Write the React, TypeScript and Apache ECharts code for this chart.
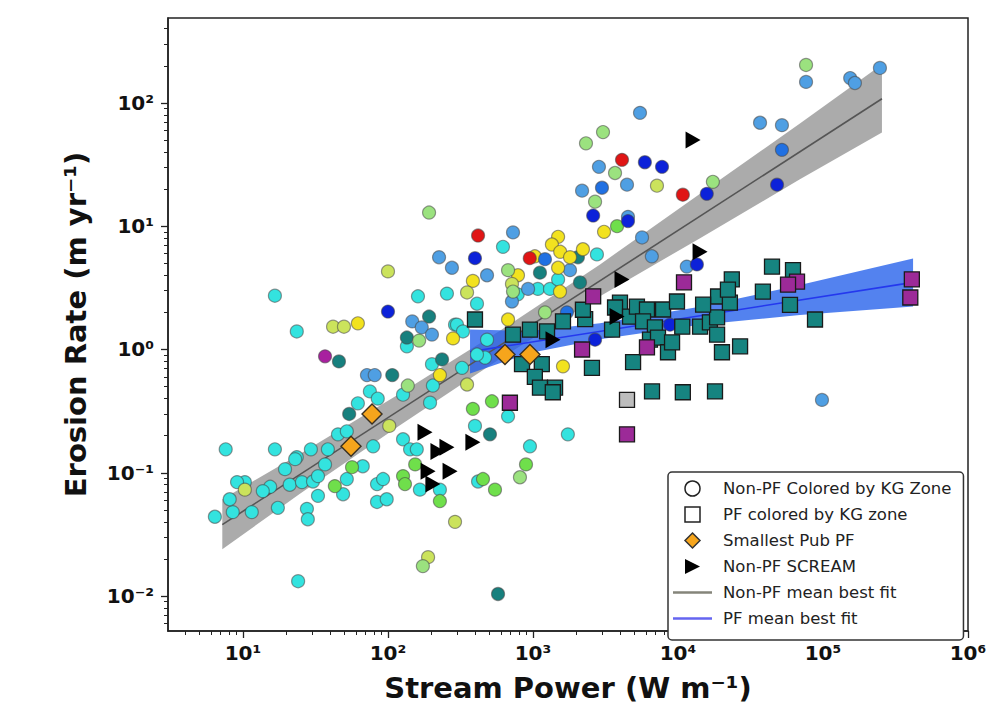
import React, { useEffect, useRef } from "react";
import * as echarts from "echarts";

// ---------- axes ----------
const xMin = 3.04;
const xMax = 1e6;
const yMin = 0.00521;
const yMax = 488;
const xTickValues = [10, 100, 1000, 1e4, 1e5, 1e6];
const xTickLabels = ["10¹", "10²", "10³", "10⁴", "10⁵", "10⁶"];
const yTickValues = [0.01, 0.1, 1, 10, 100];
const yTickLabels = ["10⁻²", "10⁻¹", "10⁰", "10¹", "10²"];
const xMinorTicks = [
  4, 5, 6, 7, 8, 9, 20, 30, 40, 50, 60, 70, 80, 90, 200, 300, 400, 500, 600, 700, 800, 900,
  2000, 3000, 4000, 5000, 6000, 7000, 8000, 9000, 20000, 30000, 40000, 50000, 60000, 70000, 80000, 90000,
  200000, 300000, 400000, 500000, 600000, 700000, 800000, 900000,
];
const yMinorTicks = [
  0.006, 0.007, 0.008, 0.009, 0.02, 0.03, 0.04, 0.05, 0.06, 0.07, 0.08, 0.09,
  0.2, 0.3, 0.4, 0.5, 0.6, 0.7, 0.8, 0.9, 2, 3, 4, 5, 6, 7, 8, 9,
  20, 30, 40, 50, 60, 70, 80, 90, 200, 300, 400,
];

// ---------- Non-PF circles, by KG zone colour ----------
const cyanPts: [number, number][] = [
  [16.6, 2.73], [23.5, 1.4], [161, 2.7], [255, 2.84], [411, 2.35], [621, 6.8], [1080, 3.1], [1310, 3.1], [1490, 3.7], [2760, 5.9],
  [75, 0.457], [85, 0.4], [62, 0.366], [45.2, 0.205], [79, 0.164], [38.5, 0.155], [29.4, 0.155], [23.5, 0.134], [16.6, 0.155], [7.6, 0.155],
  [10.3, 0.084], [9.1, 0.084], [15.4, 0.077], [21, 0.08], [25.5, 0.084], [30.4, 0.085], [32.9, 0.094], [67, 0.113], [52, 0.089], [127, 0.43],
  [195, 0.37], [204, 0.51], [324, 0.71], [467, 0.86], [290, 1.59], [135, 1.06], [482, 1.2], [411, 0.91], [398, 0.24], [127, 0.187],
  [142, 0.155], [166, 0.073], [8.5, 0.048], [11.5, 0.048], [13.7, 0.071], [17.4, 0.052], [22.9, 0.129], [32.9, 0.065], [49, 0.067], [27.6, 0.051],
  [28, 0.042], [84, 0.081], [92.5, 0.089], [84, 0.058], [98, 0.061], [158, 0.155], [228, 0.073], [418, 0.085], [24, 0.0132], [673, 0.287],
  [953, 0.164], [1740, 0.205], [299, 1.59], [329, 1.4], [785, 2.8], [201, 0.76], [52, 0.217], [6.4, 0.044], [8.1, 0.061], [19.5, 0.107], [36.8, 0.117],
];
const tealPts: [number, number][] = [
  [45.9, 0.8], [107, 0.62], [54, 0.3], [192, 1.85], [236, 0.83], [135, 1.25], [2040, 5.6], [1117, 4.2], [2110, 3.5], [505, 0.205], [574, 0.0104],
];
const lightBluePts: [number, number][] = [
  [76400, 148], [154000, 159], [166000, 145], [247000, 192], [36800, 69], [52100, 66], [5470, 83], [2850, 30.3], [2180, 19.4], [4450, 21.7],
  [4520, 11.9], [5650, 8.1], [6600, 5.7], [11500, 4.7], [728, 8.9], [225, 5.6], [276, 4.6], [482, 4.0], [1800, 4.4], [147, 1.69],
  [171, 1.51], [201, 1.32], [71.6, 0.62], [81, 0.62], [716, 2.45], [925, 3.1], [98400, 0.39],
];
const mediumBluePts: [number, number][] = [[52100, 41.6], [2990, 20.5], [1210, 5.4], [1715, 2.0]];
const darkBluePts: [number, number][] = [
  [48200, 21.7], [15800, 18.3], [5910, 33], [7760, 30.3], [2600, 12.2], [4520, 11], [13500, 4.9], [398, 5.5], [100, 2.03], [2680, 1.2], [8810, 1.59],
];
const yellowPts: [number, number][] = [
  [3090, 9.0], [1490, 8.2], [1350, 7.1], [1540, 6.2], [1030, 5.7], [1800, 5.6], [2210, 6.5], [788, 4.0], [1490, 4.6], [1535, 2.95],
  [673, 1.75], [385, 3.6], [281, 1.23], [228, 0.62], [62, 1.63], [1610, 0.73],
];
const yellowGreenPts: [number, number][] = [
  [7160, 21.3], [100, 4.3], [351, 2.9], [41.8, 1.53], [49.7, 1.53], [716, 3.4], [10.3, 0.073], [102, 0.24], [351, 0.52], [290, 0.04], [189, 0.0207],
];
const lightGreenPts: [number, number][] = [
  [76400, 203], [3040, 58], [2320, 47], [3680, 27], [17400, 22.9], [2680, 15.8], [192, 12.9], [673, 4.4], [728, 2.95], [1210, 2.0],
  [164, 1.18], [137, 0.51], [174, 0.0175], [813, 0.092],
];
const greenPts: [number, number][] = [
  [3800, 10], [56.5, 0.111], [43, 0.078], [127, 0.094], [131, 0.081], [154, 0.117], [228, 0.059], [452, 0.089], [547, 0.073], [385, 0.33],
  [521, 0.38], [895, 0.117],
];
const redPts: [number, number][] = [[4110, 34.5], [10800, 18], [418, 8.4], [950, 5.5]];
const magentaPts: [number, number][] = [[36.8, 0.88]];

// ---------- PF squares ----------
const pfTealPts: [number, number][] = [
  [398, 1.75], [728, 1.32], [953, 1.45], [1250, 1.4], [1610, 1.69], [2290, 1.76], [2210, 2.1], [840, 0.76], [1150, 0.76], [1030, 0.6],
  [1117, 0.49], [1420, 0.49], [1370, 0.45], [2550, 0.71], [3980, 2.4], [3680, 2.19], [4670, 1.85], [5210, 2.23], [6110, 2.11], [7890, 2.11],
  [9840, 2.45], [5740, 1.69], [6930, 1.51], [6410, 1.2], [7280, 1.25], [10700, 1.53], [14200, 1.53], [16600, 1.66], [18600, 1.82], [18900, 2.69],
  [22800, 2.4], [14900, 2.31], [23500, 3.7], [22100, 3.06], [38500, 2.95], [44500, 4.7], [62100, 4.4], [59200, 2.3], [88100, 1.75], [8530, 0.95],
  [9100, 1.14], [20100, 0.95], [26800, 1.06], [18600, 1.32], [4900, 0.79], [6620, 0.457], [10800, 0.45], [18000, 0.457], [3510, 1.45],
];
const pfPurplePts: [number, number][] = [
  [11000, 3.5], [2600, 2.7], [2180, 1.0], [693, 0.37], [4450, 0.205], [66200, 3.55], [57400, 3.36], [410000, 3.7], [400000, 2.64], [6110, 1.04],
];
const pfGrayPts: [number, number][] = [[4450, 0.39]];

// ---------- other markers ----------
const smallestPubPts: [number, number][] = [[77.6, 0.3], [55.6, 0.164], [641, 0.91], [953, 0.91]];
const screamPts: [number, number][] = [
  [12700, 50], [14200, 6.2], [4110, 3.7], [3800, 1.85], [1374, 1.2], [180, 0.213], [255, 0.161], [221, 0.149], [385, 0.177], [189, 0.103],
  [268, 0.103], [204, 0.081],
];

// ---------- fits and confidence bands ----------
const nonPfFitX = [7.2, 255000];
const nonPfFitY = [0.038, 108];
const nonPfBandX = [7.2, 24.7, 121, 592, 2900, 14200, 69300, 255000];
const nonPfBandLo = [0.024, 0.0675, 0.243, 0.84, 2.7, 8.0, 24.0, 57.6];
const nonPfBandHi = [0.061, 0.142, 0.44, 1.42, 4.9, 18.3, 68, 205];
const pfFitX = [368, 418000];
const pfFitY = [0.96, 3.5];
const pfBandX = [368, 950, 2900, 14200, 69300, 418000];
const pfBandLo = [0.64, 0.935, 1.21, 1.59, 1.9, 2.23];
const pfBandHi = [1.45, 1.41, 1.63, 2.22, 3.33, 5.47];

const SQUARE = "path://M0,0L10,0L10,10L0,10Z";
const DIAMOND = "path://M5,0L10,5L5,10L0,5Z";
const TRIANGLE_RIGHT = "path://M0,0L10,5L0,10Z";
const LINE_ICON = "path://M0,0L40,0L40,2.8L0,2.8Z";

const FONT = "DejaVu Sans";

function tickFormatter(values: number[], labels: string[]) {
  return (v: number) => {
    const i = values.findIndex((t) => Math.abs(Math.log10(t) - Math.log10(v)) < 0.01);
    return i >= 0 ? labels[i] : "";
  };
}

function colored(pts: [number, number][], color: string) {
  return pts.map((p) => ({ value: p, itemStyle: { color } }));
}

function bandRenderer(xs: number[], lo: number[], hi: number[], fill: string) {
  return (params: any, api: any) => {
    if (params.dataIndex !== 0) return null;
    const points: number[][] = [];
    for (let i = 0; i < xs.length; i++) points.push(api.coord([xs[i], hi[i]]));
    for (let i = xs.length - 1; i >= 0; i--) points.push(api.coord([xs[i], lo[i]]));
    return { type: "polygon", shape: { points }, style: { fill }, silent: true };
  };
}

export default function App() {
  const ref = useRef<HTMLDivElement>(null);
  useEffect(() => {
    if (!ref.current) return;
    const chart = echarts.init(ref.current, undefined, { renderer: "svg" });

    const circleData = [
      ...colored(cyanPts, "#33e3df"),
      ...colored(tealPts, "#17807e"),
      ...colored(lightBluePts, "#4f9fe3"),
      ...colored(yellowPts, "#f2e21f"),
      ...colored(yellowGreenPts, "#cbe35c"),
      ...colored(lightGreenPts, "#9be27f"),
      ...colored(greenPts, "#6fdf4b"),
      ...colored(mediumBluePts, "#2070e2"),
      ...colored(darkBluePts, "#0c22d9"),
      ...colored(redPts, "#e01515"),
      ...colored(magentaPts, "#a8209f"),
    ];
    const squareData = [
      ...colored(pfTealPts, "#168480"),
      ...colored(pfPurplePts, "#9c2a98"),
      ...colored(pfGrayPts, "#bdbdbd"),
    ];

    const axisCommon = {
      splitLine: { show: false },
      minorTick: { show: false },
      minorSplitLine: { show: false },
    };

    const option: any = {
      animation: false,
      backgroundColor: "#ffffff",
      textStyle: { fontFamily: FONT },
      grid: {
        left: 168,
        right: 39,
        top: 18,
        bottom: 75,
        show: true,
        borderColor: "#222",
        borderWidth: 1.5,
        backgroundColor: "transparent",
      },
      legend: {
        show: true,
        orient: "vertical",
        left: 668,
        top: 472,
        padding: [8, 12, 13, 5],
        itemGap: 9,
        itemWidth: 39,
        itemHeight: 15,
        selectedMode: false,
        backgroundColor: "#ffffff",
        borderColor: "#333",
        borderWidth: 1.5,
        borderRadius: 4,
        textStyle: { fontFamily: FONT, fontSize: 16.5, color: "#222", lineHeight: 15, padding: [0, 0, 0, 6] },
        data: [
          { name: "Non-PF Colored by KG Zone", icon: "circle", itemStyle: { color: "#ffffff", borderColor: "#222", borderWidth: 1.5 } },
          { name: "PF colored by KG zone", icon: SQUARE, itemStyle: { color: "#ffffff", borderColor: "#222", borderWidth: 1.5 } },
          { name: "Smallest Pub PF", icon: DIAMOND, itemStyle: { color: "#f6a51c", borderColor: "#333", borderWidth: 1.5 } },
          { name: "Non-PF SCREAM", icon: TRIANGLE_RIGHT, itemStyle: { color: "#000000", borderWidth: 0 } },
          { name: "Non-PF mean best fit", icon: LINE_ICON, itemStyle: { color: "#85857a", borderWidth: 0 } },
          { name: "PF mean best fit", icon: LINE_ICON, itemStyle: { color: "#6565f0", borderWidth: 0 } },
        ],
      },
      xAxis: [
        {
          ...axisCommon,
          type: "log",
          logBase: 10,
          min: xMin,
          max: xMax,
          position: "bottom",
          name: "Stream Power (W m⁻¹)",
          nameLocation: "middle",
          nameGap: 42,
          nameTextStyle: { fontFamily: FONT, fontSize: 29, fontWeight: "bold", color: "#111" },
          axisLine: { show: true, lineStyle: { color: "#222", width: 1.5 } },
          axisTick: { show: true, inside: false, length: 7, lineStyle: { color: "#222", width: 1.3 }, customValues: xTickValues },
          axisLabel: {
            show: true,
            customValues: xTickValues,
            formatter: tickFormatter(xTickValues, xTickLabels),
            fontFamily: FONT,
            fontSize: 20,
            fontWeight: "bold",
            color: "#111",
            margin: 12,
          },
        },
        {
          ...axisCommon,
          type: "log",
          logBase: 10,
          min: xMin,
          max: xMax,
          position: "bottom",
          axisLine: { show: false },
          axisTick: { show: true, inside: false, length: 4, lineStyle: { color: "#222", width: 1 }, customValues: xMinorTicks },
          axisLabel: { show: false },
        },
      ],
      yAxis: [
        {
          ...axisCommon,
          type: "log",
          logBase: 10,
          min: yMin,
          max: yMax,
          position: "left",
          name: "Erosion Rate (m yr⁻¹)",
          nameLocation: "middle",
          nameRotate: 90,
          nameGap: 78,
          nameTextStyle: { fontFamily: FONT, fontSize: 29, fontWeight: "bold", color: "#111" },
          axisLine: { show: true, lineStyle: { color: "#222", width: 1.5 } },
          axisTick: { show: true, inside: false, length: 7, lineStyle: { color: "#222", width: 1.3 }, customValues: yTickValues },
          axisLabel: {
            show: true,
            customValues: yTickValues,
            formatter: tickFormatter(yTickValues, yTickLabels),
            fontFamily: FONT,
            fontSize: 20,
            fontWeight: "bold",
            color: "#111",
            margin: 14,
          },
        },
        {
          ...axisCommon,
          type: "log",
          logBase: 10,
          min: yMin,
          max: yMax,
          position: "left",
          axisLine: { show: false },
          axisTick: { show: true, inside: false, length: 4, lineStyle: { color: "#222", width: 1 }, customValues: yMinorTicks },
          axisLabel: { show: false },
        },
      ],
      series: [
        {
          name: "Non-PF band",
          type: "custom",
          xAxisIndex: 0,
          yAxisIndex: 0,
          z: 1,
          silent: true,
          encode: { x: 0, y: 1 },
          data: [[nonPfBandX[0], nonPfBandLo[0]]],
          renderItem: bandRenderer(nonPfBandX, nonPfBandLo, nonPfBandHi, "rgba(128,128,128,0.66)"),
        },
        {
          name: "PF band",
          type: "custom",
          xAxisIndex: 0,
          yAxisIndex: 0,
          z: 1,
          silent: true,
          encode: { x: 0, y: 1 },
          data: [[pfBandX[0], pfBandLo[0]]],
          renderItem: bandRenderer(pfBandX, pfBandLo, pfBandHi, "rgba(35,95,235,0.78)"),
        },
        {
          name: "Non-PF mean best fit",
          type: "line",
          z: 2,
          symbol: "none",
          data: nonPfFitX.map((x, i) => [x, nonPfFitY[i]]),
          lineStyle: { color: "#555555", width: 1.6 },
          itemStyle: { color: "#85857a" },
        },
        {
          name: "PF mean best fit",
          type: "line",
          z: 2,
          symbol: "none",
          data: pfFitX.map((x, i) => [x, pfFitY[i]]),
          lineStyle: { color: "#2438ee", width: 1.6 },
          itemStyle: { color: "#6565f0" },
        },
        {
          name: "Non-PF Colored by KG Zone",
          type: "scatter",
          z: 3,
          symbol: "circle",
          symbolSize: 13,
          data: circleData,
          itemStyle: { borderColor: "rgba(70,70,70,0.55)", borderWidth: 1.2, opacity: 1 },
        },
        {
          name: "PF colored by KG zone",
          type: "scatter",
          z: 4,
          symbol: SQUARE,
          symbolSize: 15,
          data: squareData,
          itemStyle: { borderColor: "#1a1a1a", borderWidth: 1.3, opacity: 1 },
        },
        {
          name: "Smallest Pub PF",
          type: "scatter",
          z: 5,
          symbol: DIAMOND,
          symbolSize: 20,
          data: smallestPubPts,
          itemStyle: { color: "#f6a51c", borderColor: "#3a3020", borderWidth: 1.4, opacity: 1 },
        },
        {
          name: "Non-PF SCREAM",
          type: "scatter",
          z: 6,
          symbol: TRIANGLE_RIGHT,
          symbolSize: [15, 17],
          data: screamPts,
          itemStyle: { color: "#000000", opacity: 1 },
        },
      ],
    };
    chart.setOption(option);
    return () => chart.dispose();
  }, []);

  return (
    <div
      ref={ref}
      style={{ position: "fixed", left: 0, top: 0, width: 1007, height: 707, background: "#ffffff" }}
    />
  );
}
